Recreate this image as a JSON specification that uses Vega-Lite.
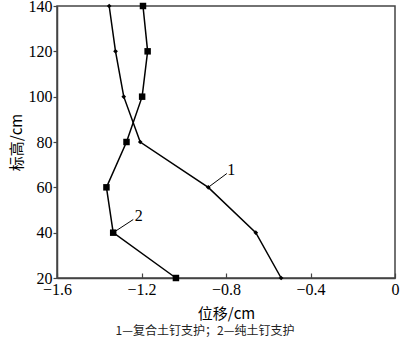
{
  "$schema": "https://vega.github.io/schema/vega-lite/v6.json",
  "autosize": "none",
  "width": 338,
  "height": 272,
  "padding": {"left": 57, "top": 6, "right": 5, "bottom": 64},
  "background": "white",
  "config": {
    "view": {"stroke": "#444", "strokeWidth": 1.5},
    "axis": {"grid": false, "domainColor": "#444", "domainWidth": 1.5, "tickColor": "#444", "tickWidth": 1.2}
  },
  "title": {"text": "1—复合土钉支护；2—纯土钉支护", "orient": "bottom", "font": "Noto Sans CJK SC", "fontSize": 12, "fontWeight": "normal", "color": "#222", "offset": 5, "dx": -21},
  "datasets": {
    "pts": [
      {"s": "1", "y": 140, "x": -1.353},
      {"s": "1", "y": 120, "x": -1.323},
      {"s": "1", "y": 100, "x": -1.284},
      {"s": "1", "y": 80, "x": -1.206},
      {"s": "1", "y": 60, "x": -0.884},
      {"s": "1", "y": 40, "x": -0.659},
      {"s": "1", "y": 20, "x": -0.539},
      {"s": "2", "y": 140, "x": -1.193},
      {"s": "2", "y": 120, "x": -1.171},
      {"s": "2", "y": 100, "x": -1.197},
      {"s": "2", "y": 80, "x": -1.271},
      {"s": "2", "y": 60, "x": -1.366},
      {"s": "2", "y": 40, "x": -1.334},
      {"s": "2", "y": 20, "x": -1.037}
    ],
    "leaders": [
      {"label": "1", "x": -0.884, "y": 60, "x2": -0.796, "y2": 66.1, "lx": -0.775, "ly": 67.5},
      {"label": "2", "x": -1.334, "y": 40, "x2": -1.239, "y2": 45.8, "lx": -1.213, "ly": 47.5}
    ]
  },
  "layer": [
    {
      "data": {"name": "pts"},
      "mark": {"type": "line", "color": "#000", "strokeWidth": 1.5},
      "encoding": {
        "x": {"field": "x", "type": "quantitative", "scale": {"domain": [-1.6, 0], "nice": false}, "axis": {"title": "位移/cm", "values": [-1.6, -1.2, -0.8, -0.4, 0], "format": ".1~f", "labelExpr": "replace(datum.label, '-', '−')", "tickSize": -5, "labelPadding": 8, "titlePadding": 9, "labelFlush": false, "labelFont": "Times New Roman", "labelFontSize": 16, "labelColor": "#000", "titleFont": "Noto Sans CJK SC", "titleFontSize": 15, "titleFontWeight": "normal", "titleColor": "#000"}},
        "y": {"field": "y", "type": "quantitative", "scale": {"domain": [20, 140], "nice": false, "zero": false}, "axis": {"title": "标高/cm", "values": [20, 40, 60, 80, 100, 120, 140], "tickSize": 4, "labelPadding": 1, "titlePadding": 4, "labelFlush": false, "labelFont": "Times New Roman", "labelFontSize": 16, "labelColor": "#000", "titleFont": "Noto Sans CJK SC", "titleFontSize": 15, "titleFontWeight": "normal", "titleColor": "#000"}},
        "detail": {"field": "s"},
        "order": {"field": "y", "type": "quantitative"}
      }
    },
    {
      "data": {"name": "pts"},
      "transform": [{"filter": "datum.s === '1'"}],
      "mark": {"type": "point", "shape": "diamond", "filled": true, "color": "#000", "size": 22, "opacity": 1},
      "encoding": {"x": {"field": "x", "type": "quantitative"}, "y": {"field": "y", "type": "quantitative"}}
    },
    {
      "data": {"name": "pts"},
      "transform": [{"filter": "datum.s === '2'"}],
      "mark": {"type": "square", "filled": true, "color": "#000", "size": 42, "opacity": 1},
      "encoding": {"x": {"field": "x", "type": "quantitative"}, "y": {"field": "y", "type": "quantitative"}}
    },
    {
      "data": {"name": "leaders"},
      "mark": {"type": "rule", "color": "#000", "strokeWidth": 1},
      "encoding": {"x": {"field": "x", "type": "quantitative"}, "y": {"field": "y", "type": "quantitative"}, "x2": {"field": "x2"}, "y2": {"field": "y2"}}
    },
    {
      "data": {"name": "leaders"},
      "mark": {"type": "text", "font": "Times New Roman", "fontSize": 16, "color": "#000", "align": "center", "baseline": "middle"},
      "encoding": {"x": {"field": "lx", "type": "quantitative"}, "y": {"field": "ly", "type": "quantitative"}, "text": {"field": "label"}}
    }
  ]
}
